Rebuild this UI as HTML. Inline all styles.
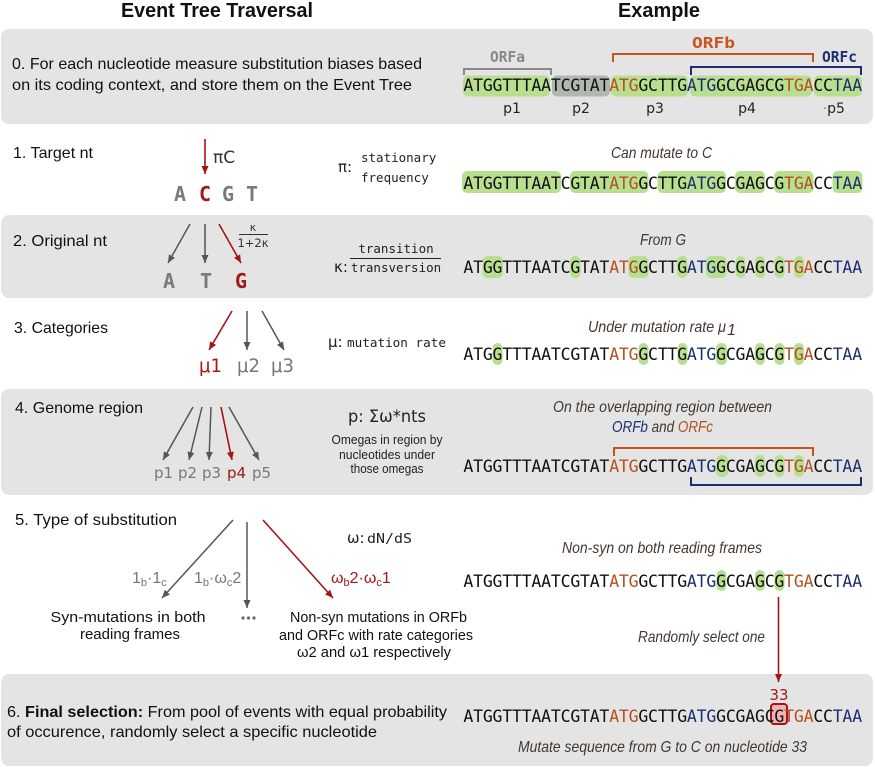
<!DOCTYPE html>
<html><head><meta charset="utf-8"><style>
html,body{margin:0;padding:0;background:#fff;}
svg{display:block;}
.sans{font-family:"Liberation Sans",sans-serif;}
.mono{font-family:"DejaVu Sans Mono","Liberation Mono",monospace;}
.dv{font-family:"DejaVu Sans","Liberation Sans",sans-serif;}
.seq{font-family:"DejaVu Sans Mono","Liberation Mono",monospace;font-size:16.5px;fill:#111;}
.it{font-family:"Liberation Sans",sans-serif;font-style:italic;font-size:16px;fill:#43372f;}
</style></head><body>
<svg width="875" height="767" viewBox="0 0 875 767" xmlns="http://www.w3.org/2000/svg">
<defs>
<marker id="ag" markerWidth="8" markerHeight="8" refX="8" refY="4" orient="auto" markerUnits="userSpaceOnUse"><path d="M0,0.5 L8,4 L0,7.5 z" fill="#555"/></marker>
<marker id="ar" markerWidth="8" markerHeight="8" refX="8" refY="4" orient="auto" markerUnits="userSpaceOnUse"><path d="M0,0.5 L8,4 L0,7.5 z" fill="#a31515"/></marker>
</defs>

<!-- bands -->
<rect x="1" y="29" width="872" height="95" rx="8" fill="#e4e4e4"/>
<rect x="1" y="215" width="872" height="83" rx="8" fill="#e4e4e4"/>
<rect x="1" y="389" width="872" height="106" rx="8" fill="#e4e4e4"/>
<rect x="1" y="674" width="872" height="92" rx="8" fill="#e4e4e4"/>

<!-- headers -->
<text class="sans" x="121" y="17" font-size="20" font-weight="bold" fill="#111" textLength="192" lengthAdjust="spacingAndGlyphs">Event Tree Traversal</text>
<text class="sans" x="618" y="17" font-size="20" font-weight="bold" fill="#111" textLength="82" lengthAdjust="spacingAndGlyphs">Example</text>

<!-- step 0 -->
<text class="sans" x="12" y="69" font-size="16" fill="#111" textLength="410" lengthAdjust="spacingAndGlyphs">0. For each nucleotide measure substitution biases based</text>
<text class="sans" x="12" y="90" font-size="16" fill="#111" textLength="400" lengthAdjust="spacingAndGlyphs">on its coding context, and store them on the Event Tree</text>

<!-- row 0 brackets and labels -->
<text class="mono" x="490" y="62" font-size="15" font-weight="bold" fill="#888" textLength="35" lengthAdjust="spacingAndGlyphs">ORFa</text>
<path d="M464,75 V69 H551 V75" fill="none" stroke="#888" stroke-width="2"/>
<text class="mono" x="692" y="48" font-size="15" font-weight="bold" fill="#c9531d" textLength="43" lengthAdjust="spacingAndGlyphs">ORFb</text>
<path d="M613,62 V54 H813 V62" fill="none" stroke="#c9531d" stroke-width="2"/>
<text class="mono" x="822" y="62" font-size="15" font-weight="bold" fill="#1c2f6e" textLength="35" lengthAdjust="spacingAndGlyphs">ORFc</text>
<path d="M691,75 V67 H861 V75" fill="none" stroke="#1c2f6e" stroke-width="2"/>

<!-- row 0 boxes -->
<g>
<rect x="463" y="75.5" width="87" height="21" rx="5" fill="#b8de90"/>
<rect x="552" y="75.5" width="58" height="21" rx="5" fill="#b0b8ae"/>
<rect x="611" y="75.5" width="77" height="21" rx="5" fill="#b8de90"/>
<rect x="690" y="75.5" width="122" height="21" rx="5" fill="#b8de90"/>
<rect x="814" y="75.5" width="48" height="21" rx="5" fill="#b8de90"/>
</g>
<text class="seq" y="91" text-anchor="middle" x="468.4 478.1 487.8 497.5 507.2 517 526.7 536.4 546.1 555.8 565.6 575.3 585 594.7 604.4 614.2 623.9 633.6 643.3 653 662.8 672.5 682.2 691.9 701.6 711.4 721.1 730.8 740.5 750.2 760 769.7 779.4 789.1 798.8 808.6 818.3 828 837.7 847.4 857.2">ATGGTTTAATCGTAT<tspan fill="#b5501f">ATG</tspan>GCTTG<tspan fill="#1c2f6e">ATG</tspan>GCGAGCG<tspan fill="#b5501f">TGA</tspan>CC<tspan fill="#1c2f6e">TAA</tspan></text>
<g class="dv" font-size="14" fill="#222" text-anchor="middle">
<text x="512" y="113">p1</text>
<text x="581" y="113">p2</text>
<text x="655" y="113">p3</text>
<text x="747" y="113">p4</text>
<text x="836" y="113">p5</text>
</g>
<circle cx="825" cy="108" r="0.8" fill="#555"/>

<!-- step 1 -->
<text class="sans" x="13" y="158" font-size="16" fill="#111" textLength="80" lengthAdjust="spacingAndGlyphs">1. Target nt</text>
<line x1="205" y1="139" x2="205" y2="174" stroke="#a31515" stroke-width="1.6" marker-end="url(#ar)"/>
<text class="dv" x="213" y="163" font-size="17" fill="#333">πC</text>
<g class="mono" font-size="20" font-weight="bold" text-anchor="middle">
<text x="180" y="201" fill="#7a7a7a">A</text>
<text x="205" y="201" fill="#a01818">C</text>
<text x="228" y="201" fill="#7a7a7a">G</text>
<text x="252" y="201" fill="#7a7a7a">T</text>
</g>
<text class="dv" x="338" y="172" font-size="15" fill="#222">π:</text>
<text class="mono" x="361" y="162" font-size="12.5" fill="#222">stationary</text>
<text class="mono" x="361" y="182" font-size="12.5" fill="#222">frequency</text>
<text class="it" x="611" y="158" textLength="101" lengthAdjust="spacingAndGlyphs">Can mutate to C</text>
<g>
<rect x="462" y="171" width="99" height="22" rx="5" fill="#b8de90"/>
<rect x="570" y="171" width="78.5" height="22" rx="5" fill="#b8de90"/>
<rect x="657.5" y="171" width="68.5" height="22" rx="5" fill="#b8de90"/>
<rect x="735" y="171" width="30" height="22" rx="5" fill="#b8de90"/>
<rect x="774" y="171" width="39.5" height="22" rx="5" fill="#b8de90"/>
<rect x="832.5" y="171" width="30" height="22" rx="5" fill="#b8de90"/>
</g>
<text class="seq" y="189" text-anchor="middle" x="468.4 478.1 487.8 497.5 507.2 517 526.7 536.4 546.1 555.8 565.6 575.3 585 594.7 604.4 614.2 623.9 633.6 643.3 653 662.8 672.5 682.2 691.9 701.6 711.4 721.1 730.8 740.5 750.2 760 769.7 779.4 789.1 798.8 808.6 818.3 828 837.7 847.4 857.2">ATGGTTTAATCGTAT<tspan fill="#b5501f">ATG</tspan>GCTTG<tspan fill="#1c2f6e">ATG</tspan>GCGAGCG<tspan fill="#b5501f">TGA</tspan>CC<tspan fill="#1c2f6e">TAA</tspan></text>

<!-- step 2 -->
<text class="sans" x="13" y="246" font-size="16" fill="#111" textLength="94" lengthAdjust="spacingAndGlyphs">2. Original nt</text>
<line x1="190" y1="224" x2="168" y2="263" stroke="#555" stroke-width="1.5" marker-end="url(#ag)"/>
<line x1="205" y1="224" x2="205" y2="263" stroke="#555" stroke-width="1.5" marker-end="url(#ag)"/>
<line x1="219" y1="224" x2="241" y2="263" stroke="#a31515" stroke-width="1.6" marker-end="url(#ar)"/>
<text class="dv" x="253" y="231" font-size="11" fill="#333" text-anchor="middle">κ</text>
<line x1="239" y1="234.5" x2="268" y2="234.5" stroke="#333" stroke-width="1"/>
<text class="dv" x="253" y="247" font-size="11.5" fill="#333" text-anchor="middle">1+2κ</text>
<g class="mono" font-size="20" font-weight="bold" text-anchor="middle">
<text x="169" y="288" fill="#7a7a7a">A</text>
<text x="206" y="288" fill="#7a7a7a">T</text>
<text x="241" y="288" fill="#a01818">G</text>
</g>
<text class="dv" x="334" y="272" font-size="15" fill="#222">κ:</text>
<text class="mono" x="396" y="253" font-size="12.5" fill="#222" text-anchor="middle">transition</text>
<line x1="350" y1="258.5" x2="441" y2="258.5" stroke="#222" stroke-width="1"/>
<text class="mono" x="396" y="272" font-size="12.5" fill="#222" text-anchor="middle">transversion</text>
<text class="it" x="640" y="245" textLength="46" lengthAdjust="spacingAndGlyphs">From G</text>
<g fill="#b8de90">
<rect x="482.5" y="256" width="20.5" height="22" rx="5"/>
<rect x="570" y="256" width="10.5" height="22" rx="5"/>
<rect x="628.5" y="256" width="20" height="22" rx="5"/>
<rect x="677" y="256" width="10.5" height="22" rx="5"/>
<rect x="706" y="256" width="20.5" height="22" rx="5"/>
<rect x="735.5" y="256" width="10" height="22" rx="5"/>
<rect x="755" y="256" width="10" height="22" rx="5"/>
<rect x="774.5" y="256" width="10" height="22" rx="5"/>
<rect x="794" y="256" width="10" height="22" rx="5"/>
</g>
<text class="seq" y="273" text-anchor="middle" x="468.4 478.1 487.8 497.5 507.2 517 526.7 536.4 546.1 555.8 565.6 575.3 585 594.7 604.4 614.2 623.9 633.6 643.3 653 662.8 672.5 682.2 691.9 701.6 711.4 721.1 730.8 740.5 750.2 760 769.7 779.4 789.1 798.8 808.6 818.3 828 837.7 847.4 857.2">ATGGTTTAATCGTAT<tspan fill="#b5501f">ATG</tspan>GCTTG<tspan fill="#1c2f6e">ATG</tspan>GCGAGCG<tspan fill="#b5501f">TGA</tspan>CC<tspan fill="#1c2f6e">TAA</tspan></text>

<!-- step 3 -->
<text class="sans" x="14" y="333" font-size="16" fill="#111" textLength="94" lengthAdjust="spacingAndGlyphs">3. Categories</text>
<line x1="232" y1="311" x2="209" y2="350" stroke="#a31515" stroke-width="1.6" marker-end="url(#ar)"/>
<line x1="247" y1="311" x2="247" y2="350" stroke="#555" stroke-width="1.5" marker-end="url(#ag)"/>
<line x1="262" y1="311" x2="284" y2="350" stroke="#555" stroke-width="1.5" marker-end="url(#ag)"/>
<g class="dv" font-size="19">
<text x="199" y="372" fill="#a01818" textLength="23" lengthAdjust="spacingAndGlyphs">μ1</text>
<text x="237" y="372" fill="#777" textLength="23" lengthAdjust="spacingAndGlyphs">μ2</text>
<text x="271" y="372" fill="#777" textLength="23" lengthAdjust="spacingAndGlyphs">μ3</text>
</g>
<text class="dv" x="328" y="347" font-size="15" fill="#222">μ:</text>
<text class="mono" x="347" y="347" font-size="12.6" fill="#222" textLength="99" lengthAdjust="spacingAndGlyphs">mutation rate</text>
<text class="it" x="588" y="332" textLength="138" lengthAdjust="spacingAndGlyphs">Under mutation rate μ</text>
<text class="it" x="727" y="335" font-size="11">1</text>
<g fill="#b8de90">
<rect x="492.5" y="343" width="10" height="22" rx="5"/>
<rect x="638.5" y="343" width="10" height="22" rx="5"/>
<rect x="677.5" y="343" width="10" height="22" rx="5"/>
<rect x="716" y="343" width="11" height="22" rx="5"/>
<rect x="755" y="343" width="10" height="22" rx="5"/>
<rect x="774.5" y="343" width="10" height="22" rx="5"/>
<rect x="794" y="343" width="10" height="22" rx="5"/>
</g>
<text class="seq" y="360" text-anchor="middle" x="468.4 478.1 487.8 497.5 507.2 517 526.7 536.4 546.1 555.8 565.6 575.3 585 594.7 604.4 614.2 623.9 633.6 643.3 653 662.8 672.5 682.2 691.9 701.6 711.4 721.1 730.8 740.5 750.2 760 769.7 779.4 789.1 798.8 808.6 818.3 828 837.7 847.4 857.2">ATGGTTTAATCGTAT<tspan fill="#b5501f">ATG</tspan>GCTTG<tspan fill="#1c2f6e">ATG</tspan>GCGAGCG<tspan fill="#b5501f">TGA</tspan>CC<tspan fill="#1c2f6e">TAA</tspan></text>

<!-- step 4 -->
<text class="sans" x="15" y="413" font-size="16" fill="#111" textLength="128" lengthAdjust="spacingAndGlyphs">4. Genome region</text>
<line x1="193" y1="407" x2="163" y2="460" stroke="#555" stroke-width="1.5" marker-end="url(#ag)"/>
<line x1="202" y1="407" x2="189" y2="460" stroke="#555" stroke-width="1.5" marker-end="url(#ag)"/>
<line x1="211" y1="407" x2="209" y2="460" stroke="#555" stroke-width="1.5" marker-end="url(#ag)"/>
<line x1="221" y1="407" x2="232" y2="460" stroke="#a31515" stroke-width="1.6" marker-end="url(#ar)"/>
<line x1="229" y1="407" x2="259" y2="460" stroke="#555" stroke-width="1.5" marker-end="url(#ag)"/>
<g class="dv" font-size="15" fill="#777">
<text x="154" y="478">p1</text>
<text x="178" y="478">p2</text>
<text x="202" y="478">p3</text>
<text x="227" y="478" fill="#a01818">p4</text>
<text x="252" y="478">p5</text>
</g>
<text class="dv" x="348" y="422" font-size="17" fill="#222" textLength="78" lengthAdjust="spacingAndGlyphs">p: Σω*nts</text>
<g class="sans" font-size="13" fill="#222" text-anchor="middle">
<text x="387" y="444" textLength="111" lengthAdjust="spacingAndGlyphs">Omegas in region by</text>
<text x="387" y="459" textLength="96" lengthAdjust="spacingAndGlyphs">nucleotides under</text>
<text x="387" y="473" textLength="73" lengthAdjust="spacingAndGlyphs">those omegas</text>
</g>
<text class="it" x="553" y="412" textLength="219" lengthAdjust="spacingAndGlyphs">On the overlapping region between</text>
<text class="it" x="612" y="432" textLength="101" lengthAdjust="spacingAndGlyphs"><tspan fill="#1c2f6e">ORFb</tspan> and <tspan fill="#b5501f">ORFc</tspan></text>
<path d="M614,456 V448 H813 V456" fill="none" stroke="#c9531d" stroke-width="2"/>
<path d="M691,477 V485 H861 V477" fill="none" stroke="#1c2f6e" stroke-width="2"/>
<g fill="#b8de90">
<rect x="716" y="455" width="12" height="22" rx="5"/>
<rect x="755" y="455" width="10" height="22" rx="5"/>
<rect x="774.5" y="455" width="10" height="22" rx="5"/>
<rect x="794" y="455" width="10" height="22" rx="5"/>
</g>
<text class="seq" y="472" text-anchor="middle" x="468.4 478.1 487.8 497.5 507.2 517 526.7 536.4 546.1 555.8 565.6 575.3 585 594.7 604.4 614.2 623.9 633.6 643.3 653 662.8 672.5 682.2 691.9 701.6 711.4 721.1 730.8 740.5 750.2 760 769.7 779.4 789.1 798.8 808.6 818.3 828 837.7 847.4 857.2">ATGGTTTAATCGTAT<tspan fill="#b5501f">ATG</tspan>GCTTG<tspan fill="#1c2f6e">ATG</tspan>GCGAGCG<tspan fill="#b5501f">TGA</tspan>CC<tspan fill="#1c2f6e">TAA</tspan></text>

<!-- step 5 -->
<text class="sans" x="15" y="525" font-size="16" fill="#111" textLength="162" lengthAdjust="spacingAndGlyphs">5. Type of substitution</text>
<line x1="233" y1="520" x2="162" y2="598" stroke="#555" stroke-width="1.5" marker-end="url(#ag)"/>
<line x1="247" y1="522" x2="247" y2="608" stroke="#555" stroke-width="1.5" marker-end="url(#ag)"/>
<line x1="263" y1="520" x2="333" y2="598" stroke="#a31515" stroke-width="1.6" marker-end="url(#ar)"/>
<text class="sans" x="132" y="583" font-size="16" fill="#777">1<tspan font-size="11" dy="3">b</tspan><tspan dy="-3">·1</tspan><tspan font-size="11" dy="3">c</tspan></text>
<text class="sans" x="194" y="583" font-size="16" fill="#777">1<tspan font-size="11" dy="3">b</tspan><tspan dy="-3">·ω</tspan><tspan font-size="11" dy="3">c</tspan><tspan dy="-3">2</tspan></text>
<text class="sans" x="331" y="583" font-size="16" fill="#a01818">ω<tspan font-size="11" dy="3">b</tspan><tspan dy="-3">2·ω</tspan><tspan font-size="11" dy="3">c</tspan><tspan dy="-3">1</tspan></text>
<text class="dv" x="347" y="543" font-size="15" fill="#222">ω:</text>
<text class="mono" x="367" y="543" font-size="13" fill="#222" textLength="45" lengthAdjust="spacingAndGlyphs">dN/dS</text>
<g class="sans" font-size="15" fill="#111" text-anchor="middle">
<text x="128" y="622" textLength="155" lengthAdjust="spacingAndGlyphs">Syn-mutations in both</text>
<text x="130" y="639">reading frames</text>
<text x="378.5" y="622" textLength="177" lengthAdjust="spacingAndGlyphs">Non-syn mutations in ORFb</text>
<text x="376" y="640" textLength="194" lengthAdjust="spacingAndGlyphs">and ORFc with rate categories</text>
<text x="374" y="657" textLength="154" lengthAdjust="spacingAndGlyphs">ω2 and ω1 respectively</text>
</g>
<g fill="#666">
<circle cx="243" cy="618" r="1.6"/><circle cx="248.5" cy="618" r="1.6"/><circle cx="254" cy="618" r="1.6"/>
</g>
<text class="it" x="562" y="553" textLength="200" lengthAdjust="spacingAndGlyphs">Non-syn on both reading frames</text>
<g fill="#b8de90">
<rect x="716.5" y="570" width="10" height="21" rx="5"/>
<rect x="755" y="570" width="10" height="21" rx="5"/>
<rect x="774.5" y="570" width="10" height="21" rx="5"/>
</g>
<text class="seq" y="587" text-anchor="middle" x="468.4 478.1 487.8 497.5 507.2 517 526.7 536.4 546.1 555.8 565.6 575.3 585 594.7 604.4 614.2 623.9 633.6 643.3 653 662.8 672.5 682.2 691.9 701.6 711.4 721.1 730.8 740.5 750.2 760 769.7 779.4 789.1 798.8 808.6 818.3 828 837.7 847.4 857.2">ATGGTTTAATCGTAT<tspan fill="#b5501f">ATG</tspan>GCTTG<tspan fill="#1c2f6e">ATG</tspan>GCGAGCG<tspan fill="#b5501f">TGA</tspan>CC<tspan fill="#1c2f6e">TAA</tspan></text>
<text class="it" x="638" y="642" textLength="127" lengthAdjust="spacingAndGlyphs">Randomly select one</text>
<line x1="778.5" y1="597" x2="778.5" y2="682" stroke="#a31515" stroke-width="1.6" marker-end="url(#ar)"/>

<!-- step 6 -->
<text class="sans" x="7" y="717" font-size="16" fill="#111" textLength="440" lengthAdjust="spacingAndGlyphs">6. <tspan font-weight="bold">Final selection:</tspan> From pool of events with equal probability</text>
<text class="sans" x="7" y="737" font-size="16" fill="#111" textLength="370" lengthAdjust="spacingAndGlyphs">of occurence, randomly select a specific nucleotide</text>
<text class="dv" x="779" y="700" font-size="15" fill="#a01818" text-anchor="middle">33</text>
<rect x="771" y="704" width="16" height="20" rx="3" fill="#f2b3b3" stroke="#a31515" stroke-width="2"/>
<text class="seq" y="722" text-anchor="middle" x="468.4 478.1 487.8 497.5 507.2 517 526.7 536.4 546.1 555.8 565.6 575.3 585 594.7 604.4 614.2 623.9 633.6 643.3 653 662.8 672.5 682.2 691.9 701.6 711.4 721.1 730.8 740.5 750.2 760 769.7 779.4 789.1 798.8 808.6 818.3 828 837.7 847.4 857.2">ATGGTTTAATCGTAT<tspan fill="#b5501f">ATG</tspan>GCTTG<tspan fill="#1c2f6e">ATG</tspan>GCGAGCG<tspan fill="#b5501f">TGA</tspan>CC<tspan fill="#1c2f6e">TAA</tspan></text>
<text class="it" x="518" y="752" textLength="289" lengthAdjust="spacingAndGlyphs">Mutate sequence from G to C on nucleotide 33</text>
</svg>
</body></html>
